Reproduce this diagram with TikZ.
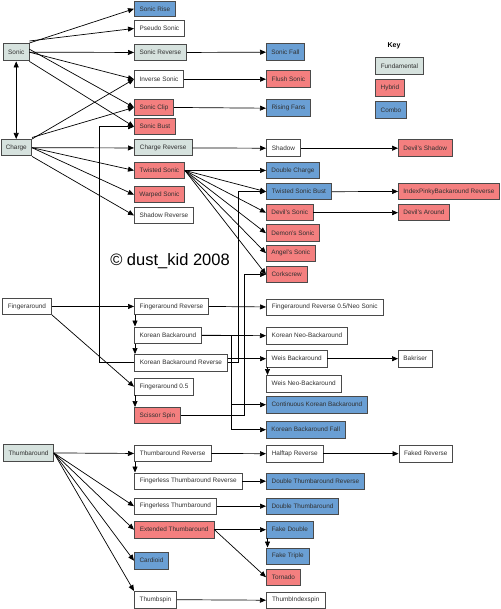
\documentclass[tikz,border=0pt]{standalone}
\usepackage{fontspec}
\setmainfont{Liberation Sans}
\usetikzlibrary{arrows.meta}
\definecolor{fundc}{HTML}{D6E2DE}
\definecolor{hybc}{HTML}{F47F7F}
\definecolor{combc}{HTML}{6A9FD4}
\definecolor{bordc}{HTML}{4A4A4A}
\definecolor{txtc}{HTML}{303030}
\tikzset{
  box/.style={draw=bordc, line width=0.9pt, anchor=north west, inner sep=0pt,
    minimum height=16.5pt, font=\fontsize{6.4}{7}\selectfont, text=txtc},
  plain/.style={box, fill=white},
  fund/.style={box, fill=fundc},
  hyb/.style={box, fill=hybc},
  comb/.style={box, fill=combc},
  arr/.style={-{Triangle[length=6pt,width=5pt]}, line width=0.7pt, black},
  dbl/.style={{Triangle[length=6pt,width=5pt]}-{Triangle[length=6pt,width=5pt]}, line width=0.7pt, black}
}
\begin{document}
\begin{tikzpicture}[x=1pt,y=-1pt]
\useasboundingbox[fill=white] (0,0) rectangle (500,609);
% column 1
\node[fund, minimum width=25.5pt, minimum height=17.5pt] (sonic) at (3,43) {Sonic};
\node[fund, minimum width=30.5pt] (charge) at (0.6,139) {Charge};
\node[plain, minimum width=49pt, minimum height=16pt] (fa) at (2,298) {Fingeraround};
\node[fund, minimum width=50pt, minimum height=17pt] (thumb) at (3,444) {Thumbaround};
% column 2
\node[comb, minimum width=41pt, minimum height=15.5pt] (srise) at (134,0.6) {Sonic Rise};
\node[plain, minimum width=50pt, minimum height=16pt] (pseudo) at (134,20) {Pseudo Sonic};
\node[fund, minimum width=52pt, minimum height=16pt] (srev) at (134,44) {Sonic Reverse};
\node[plain, minimum width=49pt] (inv) at (134,70.5) {Inverse Sonic};
\node[hyb, minimum width=39pt, minimum height=16pt] (sclip) at (134,99) {Sonic Clip};
\node[hyb, minimum width=41pt] (sbust) at (134,118) {Sonic Bust};
\node[fund, minimum width=57.5pt, minimum height=16pt] (crev) at (134,139.5) {Charge Reverse};
\node[hyb, minimum width=50pt, minimum height=16pt] (tsonic) at (134,162) {Twisted Sonic};
\node[hyb, minimum width=50pt] (warped) at (134,186) {Warped Sonic};
\node[plain, minimum width=59pt, minimum height=16pt] (shrev) at (134,207) {Shadow Reverse};
\node[plain, minimum width=74pt, minimum height=16pt] (far) at (134,298) {Fingeraround Reverse};
\node[plain, minimum width=67pt] (kb) at (134,326.5) {Korean Backaround};
\node[plain, minimum width=93pt] (kbr) at (134,354) {Korean Backaround Reverse};
\node[plain, minimum width=59pt] (f05) at (134,378) {Fingeraround 0.5};
\node[hyb, minimum width=46pt, minimum height=16pt] (ss) at (134,407) {Scissor Spin};
\node[plain, minimum width=76.5pt, minimum height=16pt] (tr) at (134,445) {Thumbaround Reverse};
\node[plain, minimum width=107.5pt] (ftr) at (134,472.5) {Fingerless Thumbaround Reverse};
\node[plain, minimum width=82pt] (ft) at (134,497.5) {Fingerless Thumbaround};
\node[hyb, minimum width=79.5pt] (et) at (134,521) {Extended Thumbaround};
\node[comb, minimum width=34pt] (card) at (134,552) {Cardioid};
\node[plain, minimum width=42pt] (tspin) at (134,591) {Thumbspin};
% column 3
\node[comb, minimum width=38pt] (sfall) at (266,43.5) {Sonic Fall};
\node[hyb, minimum width=44pt] (flush) at (266,70.5) {Flush Sonic};
\node[comb, minimum width=44pt] (rfans) at (266,99.5) {Rising Fans};
\node[plain, minimum width=34pt] (shadow) at (266,139.5) {Shadow};
\node[comb, minimum width=53pt, minimum height=16pt] (dcharge) at (266,162) {Double Charge};
\node[comb, minimum width=65pt] (tsb) at (266,183) {Twisted Sonic Bust};
\node[hyb, minimum width=46.5pt] (dsonic) at (266,204) {Devil's Sonic};
\node[hyb, minimum width=53pt] (demon) at (266,224.5) {Demon's Sonic};
\node[hyb, minimum width=48.5pt] (angel) at (266,244.5) {Angel's Sonic};
\node[hyb, minimum width=40.5pt, minimum height=16pt] (cork) at (266,266) {Corkscrew};
\node[plain, minimum width=116.5pt, minimum height=16pt] (neo) at (266,298.5) {Fingeraround Reverse 0.5/Neo Sonic};
\node[plain, minimum width=81pt] (kneo) at (266,327) {Korean Neo-Backaround};
\node[plain, minimum width=60.5pt] (weis) at (266,350) {Weis Backaround};
\node[plain, minimum width=74.5pt] (wneo) at (266,375) {Weis Neo-Backaround};
\node[comb, minimum width=101pt] (ckb) at (266,396) {Continuous Korean Backaround};
\node[comb, minimum width=78.5pt] (kbf) at (266,421) {Korean Backaround Fall};
\node[plain, minimum width=56.5pt] (htr) at (266,445) {Halftap Reverse};
\node[comb, minimum width=98pt] (dtr) at (266,472.5) {Double Thumbaround Reverse};
\node[comb, minimum width=72pt] (dt) at (266,497.5) {Double Thumbaround};
\node[comb, minimum width=46.5pt] (fd) at (266,521) {Fake Double};
\node[comb, minimum width=42.5pt] (ftri) at (266,547.5) {Fake Triple};
\node[hyb, minimum width=34pt] (torn) at (266,568.5) {Tornado};
\node[plain, minimum width=58.5pt] (tis) at (266,591.5) {ThumbIndexspin};
% column 4
\node[hyb, minimum width=53.5pt] (dshadow) at (398,139.5) {Devil's Shadow};
\node[hyb, minimum width=101pt, minimum height=16pt] (ipbr) at (398,183) {IndexPinkyBackaround Reverse};
\node[hyb, minimum width=51pt] (daround) at (398,204) {Devil's Around};
\node[plain, minimum width=33.5pt] (bak) at (398,350) {Bakriser};
\node[plain, minimum width=53.5pt] (faked) at (398.5,445) {Faked Reverse};
% key
\node[font=\fontsize{7}{8}\selectfont\bfseries, inner sep=0pt] (keyt) at (394,46) {Key};
\node[fund, minimum width=48pt] (kfund) at (375,57.5) {Fundamental};
\node[hyb, minimum width=29pt] (khyb) at (375,79.5) {Hybrid};
\node[comb, minimum width=31pt] (kcomb) at (375,101.5) {Combo};
% copyright
\node[font=\fontsize{16.5}{18}\selectfont, inner sep=0pt] (copy) at (170,261.5) {© dust\_kid 2008};
% edges: Sonic
\draw[arr] (sonic.north east) -- (srise.west);
\draw[arr] ([yshift=2pt]sonic.north east) -- (pseudo.west);
\draw[arr] (sonic.east) -- (srev.west);
\draw[arr] (sonic.east) -- (inv.west);
\draw[arr] ([yshift=3pt]sonic.east) -- (sclip.west);
\draw[arr] (sonic.south east) -- (sbust.west);
\draw[dbl] (sonic.south) -- (sonic.south |- charge.north);
% Charge
\draw[arr] (charge.north east) -- (inv.west);
\draw[arr] ([yshift=1.5pt]charge.north east) -- (sclip.west);
\draw[arr] (charge.east) -- (crev.west);
\draw[arr] (charge.east) -- (tsonic.west);
\draw[arr] (charge.east) -- (warped.west);
\draw[arr] (charge.south east) -- (shrev.west);
% second level
\draw[arr] (srev.east) -- (sfall.west);
\draw[arr] (inv.east) -- (flush.west);
\draw[arr] (sclip.east) -- (rfans.west);
\draw[arr] (crev.east) -- (shadow.west);
\draw[arr] (shadow.east) -- (dshadow.west);
\draw[arr] (tsonic.east) -- (dcharge.west);
\draw[arr] (tsonic.east) -- (tsb.west);
\draw[arr] (tsonic.east) -- (dsonic.west);
\draw[arr] (tsonic.east) -- (demon.west);
\draw[arr] (tsonic.east) -- (angel.west);
\draw[arr] (tsonic.east) -- (cork.west);
\draw[arr] (tsb.east) -- (ipbr.west);
\draw[arr] (dsonic.east) -- (daround.west);
% Fingeraround
\draw[arr] (fa.east) -- (far.west);
\draw[arr] (fa.south east) -- (f05.west);
\draw[arr] (far.east) -- (neo.west);
\draw[arr] ([xshift=1pt]far.south west) -- ([xshift=1pt]kb.north west);
\draw[arr] ([xshift=1pt]kb.south west) -- ([xshift=1pt]kbr.north west);
\draw[arr] ([xshift=1pt]f05.south west) -- ([xshift=1pt]ss.north west);
\draw[arr] (kb.east) -- (kneo.west);
\draw[arr] (kb.east) -- ++(29,0) |- (ckb.west);
\draw[arr] (kb.east) -- ++(29,0) |- (kbf.west);
\draw[arr] (kbr.west) -- ++(-35,0) |- (sbust.west);
\draw[arr] (kbr.east) -- ++(10,0) |- (tsb.west);
\draw[arr] (kbr.east |- weis.west) -- (weis.west);
\draw[arr] (ss.east) -- ++(63,0) |- (cork.west);
\draw[arr] (weis.east) -- (bak.west);
\draw[arr] ([xshift=1.5pt]weis.south west) -- ([xshift=1.5pt]wneo.north west);
% Thumbaround
\draw[arr] (thumb.east) -- (tr.west);
\draw[arr] (thumb.east) -- (ft.west);
\draw[arr] (thumb.east) -- (et.west);
\draw[arr] (thumb.east) -- (card.west);
\draw[arr] (thumb.east) -- (tspin.north west);
\draw[arr] ([xshift=1pt]tr.south west) -- ([xshift=1pt]ftr.north west);
\draw[arr] (tr.east) -- (htr.west);
\draw[arr] (htr.east) -- (faked.west);
\draw[arr] (ftr.east) -- (dtr.west);
\draw[arr] (ft.east) -- (dt.west);
\draw[arr] (et.east) -- (fd.west);
\draw[arr] (et.east) -- (torn.west);
\draw[arr] ([xshift=1.5pt]fd.south west) -- ([xshift=1.5pt]ftri.north west);
\draw[arr] (tspin.east) -- (tis.west);
\end{tikzpicture}
\end{document}
